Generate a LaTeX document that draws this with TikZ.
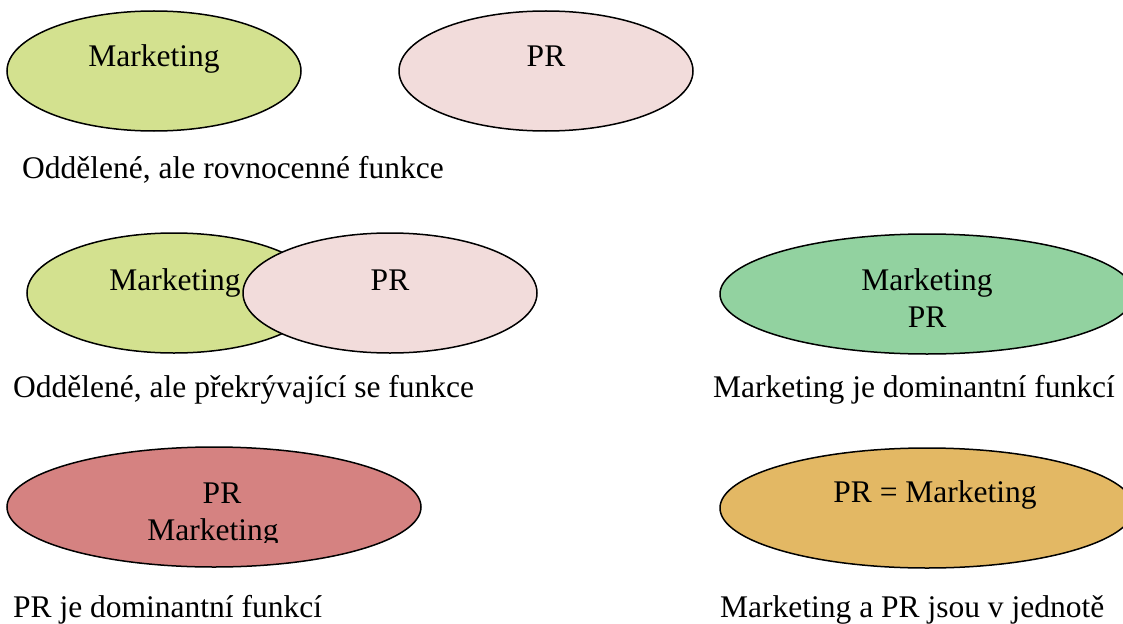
\documentclass[tikz,border=0pt]{standalone}
\usepackage{fontspec}
\setmainfont{Liberation Serif}
\usepackage{tikz}
\usetikzlibrary{shapes}
\definecolor{olivelight}{HTML}{D3E18F}
\definecolor{pinklight}{HTML}{F2DCDB}
\definecolor{greenmid}{HTML}{92D2A0}
\definecolor{redmid}{HTML}{D58281}
\definecolor{orangemid}{HTML}{E3B864}
\tikzset{
  fn/.style={ellipse, draw=black, line width=1.5pt, inner sep=0pt, minimum height=120pt},
  narrow/.style={minimum width=294pt},
  wide/.style={minimum width=414pt},
  txt/.style={inner sep=0pt, anchor=base, font=\fontsize{31.5}{37}\selectfont},
  capt/.style={inner sep=0pt, anchor=base west, font=\fontsize{31.5}{37}\selectfont}
}

\begin{document}
\begin{tikzpicture}[x=1pt, y=-1pt]
\useasboundingbox (0,0) rectangle (1123,623);
\clip (0,0) rectangle (1123,623);
% separate, equal
\node[fn, narrow, fill=olivelight] (mk1) at (154,71) {};
\node[txt] (mk1t) at (154,67) {Marketing};
\node[fn, narrow, fill=pinklight] (pr1) at (546,71) {};
\node[txt] (pr1t) at (546,67) {PR};
\node[capt] (cap1) at (22,178) {Oddělené, ale rovnocenné funkce};
% separate, overlapping
\node[fn, narrow, fill=olivelight] (mk2) at (174,293) {};
\node[txt] (mk2t) at (175,290) {Marketing};
\node[fn, narrow, fill=pinklight] (pr2) at (390,293) {};
\node[txt] (pr2t) at (390,290) {PR};
\node[capt] (cap2) at (13,397) {Oddělené, ale překrývající se funkce};
% marketing dominant
\node[fn, wide, fill=greenmid] (mk3) at (927,294) {};
\node[txt] (mk3t) at (927,290) {Marketing};
\node[txt] (pr3t) at (927,327) {PR};
\node[capt] (cap3) at (713,397) {Marketing je dominantní funkcí};
% PR dominant
\node[fn, wide, fill=redmid] (pr4) at (214,507) {};
\node[txt] (pr4t) at (222,503) {PR};
\begin{scope}
\clip (0,0) rectangle (1123,542);
\node[txt] (mk4t) at (213,540) {Marketing};
\end{scope}
\node[capt] (cap4) at (13,617) {PR je dominantní funkcí};
% unity
\node[fn, wide, fill=orangemid] (un5) at (927,508) {};
\node[txt] (un5t) at (935,502) {PR = Marketing};
\node[capt] (cap5) at (720,617) {Marketing a PR jsou v jednotě};
\end{tikzpicture}
\end{document}
